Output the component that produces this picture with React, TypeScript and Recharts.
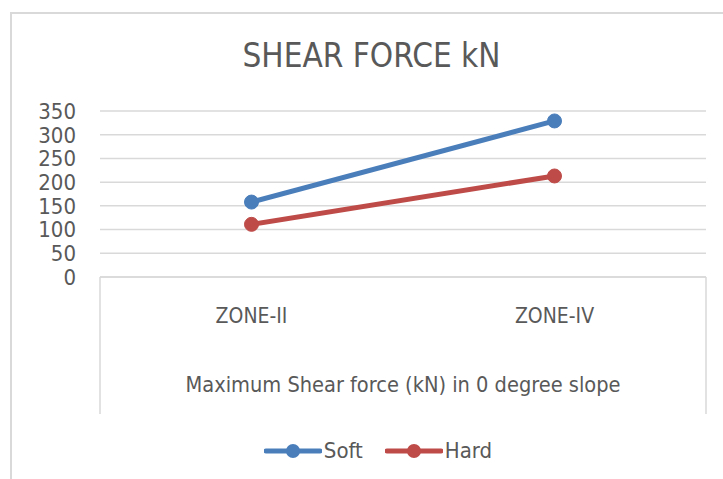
import React from "react";
import { LineChart, Line, XAxis, YAxis, CartesianGrid, Legend } from "recharts";

const categories = ["ZONE-II", "ZONE-IV"];
const softValues = [158, 329];
const hardValues = [111, 213];
const yTicks = [0, 50, 100, 150, 200, 250, 300, 350];

const data = categories.map((c, i) => ({ zone: c, Soft: softValues[i], Hard: hardValues[i] }));

const FONT = "'Liberation Sans Narrow', 'DejaVu Sans Condensed', 'Liberation Sans', sans-serif";
const TEXT = "#595959";
const GRID = "#d9d9d9";
const BLUE = "#4a7ebb";
const RED = "#be4b48";

const GroupLabel = (props: any) => {
  const vb = props.viewBox || {};
  const x = vb.x ?? 0;
  const y = vb.y ?? 0;
  const w = vb.width ?? 0;
  const h = vb.height ?? 0;
  return (
    <g>
      <line x1={x} y1={y} x2={x} y2={y + h} stroke={GRID} strokeWidth={1.5} />
      <line x1={x + w} y1={y} x2={x + w} y2={y + h} stroke={GRID} strokeWidth={1.5} />
      <text x={x + w / 2} y={y + 115} textAnchor="middle" fill={TEXT} fontSize={21.6} fontFamily={FONT}>
        Maximum Shear force (kN) in 0 degree slope
      </text>
    </g>
  );
};

const LegendContent = (props: any) => {
  const items = [
    { name: "Soft", color: BLUE },
    { name: "Hard", color: RED },
  ];
  return (
    <div style={{ display: "flex", justifyContent: "center", paddingTop: 24, paddingLeft: 50, fontFamily: FONT, fontSize: 22, color: TEXT }}>
      {items.map((it, i) => (
        <div key={it.name} style={{ display: "flex", alignItems: "center", marginLeft: i ? 22 : 0 }}>
          <svg width={58} height={26}>
            <line x1={2} y1={13} x2={56} y2={13} stroke={it.color} strokeWidth={5} strokeLinecap="round" />
            <circle cx={29} cy={13} r={7} fill={it.color} />
          </svg>
          <span style={{ marginLeft: 2, lineHeight: "26px" }}>{it.name}</span>
        </div>
      ))}
    </div>
  );
};

export default function App() {
  return (
    <div style={{ position: "absolute", left: 0, top: 0, width: 723, height: 479, background: "#fff", overflow: "hidden" }}>
      <div
        style={{
          position: "absolute",
          left: 10,
          top: 12,
          width: 760,
          height: 520,
          borderLeft: `2px solid ${GRID}`,
          borderTop: `2px solid ${GRID}`,
        }}
      />
      <div
        style={{
          position: "absolute",
          left: 0,
          top: 36,
          width: 743,
          textAlign: "center",
          fontFamily: FONT,
          fontSize: 33,
          color: TEXT,
          lineHeight: "40px",
        }}
      >
        SHEAR FORCE kN
      </div>
      <div style={{ position: "absolute", left: 0, top: 0 }}>
        <LineChart width={723} height={479} data={data} margin={{ top: 111, right: 17, bottom: 8, left: 0 }}>
          <CartesianGrid horizontal vertical={false} stroke={GRID} strokeWidth={1.5} />
          <XAxis
            dataKey="zone"
            height={137}
            padding={{ left: 151.5, right: 151.5 }}
            axisLine={{ stroke: GRID, strokeWidth: 1.5 }}
            tickLine={false}
            tickMargin={25}
            tick={{ fill: TEXT, fontSize: 21, fontFamily: FONT }}
            label={<GroupLabel />}
          />
          <YAxis
            width={100}
            domain={[0, 350]}
            ticks={yTicks}
            interval={0}
            axisLine={false}
            tickLine={false}
            tickMargin={18}
            tick={{ fill: TEXT, fontSize: 22, fontFamily: FONT }}
          />
          <Legend verticalAlign="bottom" height={57} content={<LegendContent />} />
          <Line
            dataKey="Soft"
            stroke={BLUE}
            strokeWidth={5}
            dot={{ r: 7, fill: BLUE, stroke: BLUE, strokeWidth: 1 }}
            isAnimationActive={false}
          />
          <Line
            dataKey="Hard"
            stroke={RED}
            strokeWidth={5}
            dot={{ r: 7, fill: RED, stroke: RED, strokeWidth: 1 }}
            isAnimationActive={false}
          />
        </LineChart>
      </div>
    </div>
  );
}
